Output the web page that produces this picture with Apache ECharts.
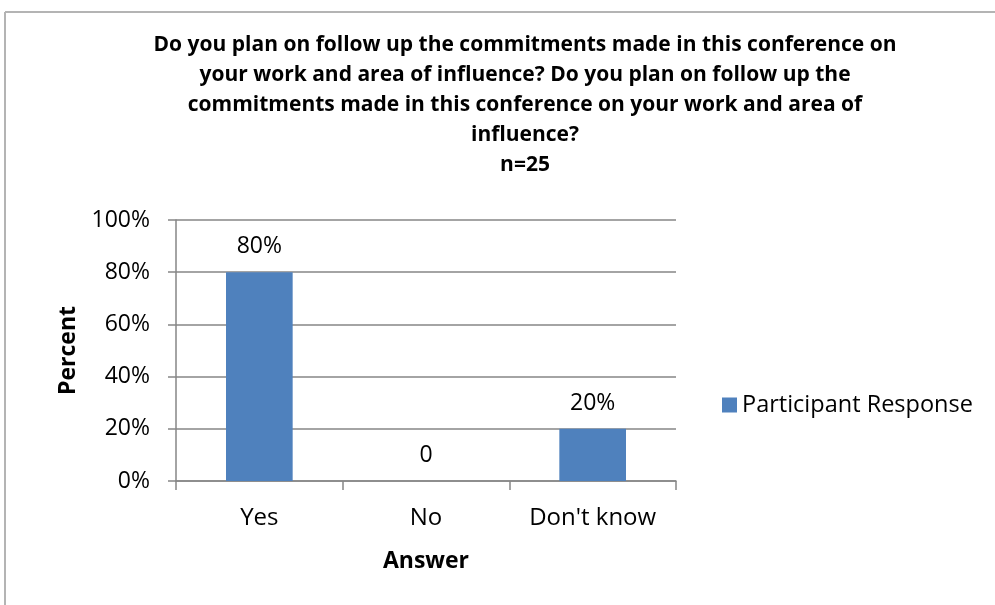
<!DOCTYPE html>
<html>
<head>
<meta charset="utf-8">
<script src="https://cdn.jsdelivr.net/npm/echarts@6/dist/echarts.min.js"></script>
<style>
  html, body { margin: 0; padding: 0; background: #fff; }
  #chart { width: 995px; height: 605px; }
</style>
</head>
<body>
<div id="chart"></div>
<script>
// Survey answers and their share of participants (percent)
const categories = ['Yes', 'No', "Don't know"];
const responseValues = [80, 0, 20];
const seriesName = 'Participant Response';
const titleLines = [
  'Do you plan on follow up the commitments made in this conference on',
  'your work and area of influence? Do you plan on follow up the',
  'commitments made in this conference on your work and area of',
  'influence?',
  'n=25'
];
const yTicks = { min: 0, max: 100, step: 20 };

const FONT = '"Open Sans", "Noto Sans", sans-serif';
const GRAY = '#868686';

const chart = echarts.init(document.getElementById('chart'));
chart.setOption({
  animation: false,
  backgroundColor: '#ffffff',
  textStyle: { fontFamily: FONT, color: '#000' },
  graphic: [
    { type: 'line', shape: { x1: 5, y1: 12, x2: 995, y2: 12 }, style: { stroke: '#b4b4b4', lineWidth: 2 } },
    { type: 'line', shape: { x1: 5, y1: 12, x2: 5, y2: 605 }, style: { stroke: '#b4b4b4', lineWidth: 2 } }
  ],
  title: {
    text: titleLines.join('\n'),
    left: 525,
    textAlign: 'center',
    top: 30,
    padding: 0,
    textStyle: { fontFamily: FONT, fontSize: 21, fontWeight: 'bold', lineHeight: 30, color: '#000' }
  },
  legend: {
    left: 717,
    top: 388,
    itemWidth: 15,
    itemHeight: 15,
    icon: 'rect',
    textStyle: { fontFamily: FONT, fontSize: 23.5, color: '#000' },
    data: [seriesName]
  },
  grid: { left: 176, right: 319, top: 220, bottom: 124 },
  xAxis: {
    type: 'category',
    data: categories,
    name: 'Answer',
    nameLocation: 'middle',
    nameGap: 69,
    nameTextStyle: { fontFamily: FONT, fontSize: 23, fontWeight: 'bold', color: '#000' },
    axisLine: { show: true, lineStyle: { color: GRAY, width: 1.5 } },
    axisTick: { show: true, alignWithLabel: false, length: 9, lineStyle: { color: GRAY, width: 1.5 } },
    axisLabel: { fontFamily: FONT, fontSize: 24, color: '#000', margin: 25 }
  },
  yAxis: {
    type: 'value',
    min: yTicks.min,
    max: yTicks.max,
    interval: yTicks.step,
    name: 'Percent',
    nameLocation: 'middle',
    nameGap: 96,
    nameRotate: 90,
    nameTextStyle: { fontFamily: FONT, fontSize: 23, fontWeight: 'bold', color: '#000' },
    axisLine: { show: true, lineStyle: { color: GRAY, width: 1.5 } },
    axisTick: { show: true, length: 8, lineStyle: { color: GRAY, width: 1.5 } },
    splitLine: { show: true, lineStyle: { color: GRAY, width: 1.5 } },
    axisLabel: { fontFamily: FONT, fontSize: 23, color: '#000', margin: 26, formatter: '{value}%' }
  },
  series: [{
    name: seriesName,
    type: 'bar',
    data: responseValues,
    barWidth: '40%',
    itemStyle: { color: '#4F81BD' },
    label: {
      show: true,
      position: 'top',
      distance: 14,
      fontFamily: FONT,
      fontSize: 23,
      color: '#000',
      formatter: p => (p.value === 0 ? '0' : p.value + '%')
    }
  }]
});
</script>
</body>
</html>
